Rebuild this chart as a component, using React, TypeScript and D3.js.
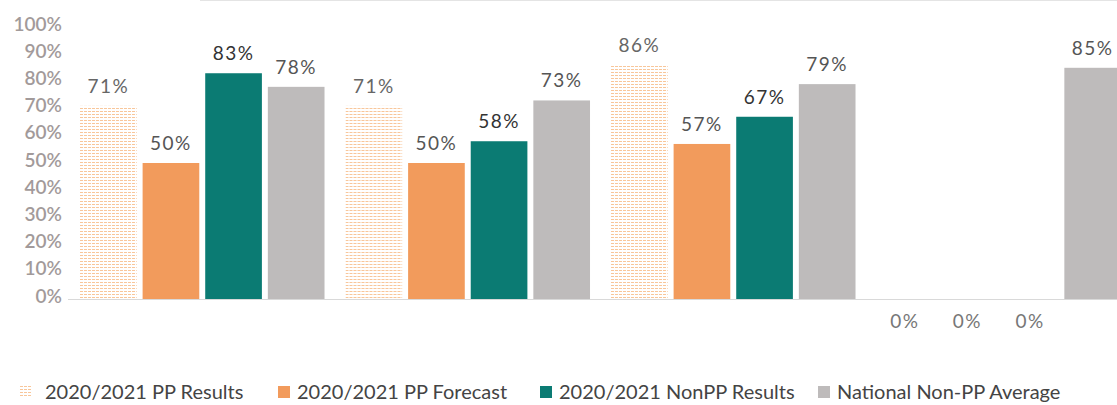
import React, { useRef, useEffect } from "react";
import * as d3 from "d3";

const categories = ["Group 1", "Group 2", "Group 3", "Group 4"];
const seriesNames = [
  "2020/2021 PP Results",
  "2020/2021 PP Forecast",
  "2020/2021 NonPP Results",
  "National Non-PP Average",
];
const ppResults = [71, 71, 86, 0];
const ppForecast = [50, 50, 57, 0];
const nonPPResults = [83, 58, 67, 0];
const nationalAvg = [78, 73, 79, 85];
const yTicks = [0, 10, 20, 30, 40, 50, 60, 70, 80, 90, 100];

const seriesValues = [ppResults, ppForecast, nonPPResults, nationalAvg];
const colors = ["url(#ppPattern)", "#f29b5c", "#0b7b73", "#bebbbb"];
const labelColors = ["#666", "#555", "#333", "#555"];

const App = () => {
  const chartRef = useRef<HTMLDivElement>(null);

  useEffect(() => {
    const width = 1117;
    const height = 405;

    d3.select(chartRef.current).selectAll("svg").remove();

    const svg = d3
      .select(chartRef.current)
      .append("svg")
      .attr("width", width)
      .attr("height", height)
      .style("position", "absolute")
      .style("left", "0px")
      .style("top", "0px")
      .style("font-family", "Lato, 'Open Sans', sans-serif");

    // dashed orange fill for the "PP Results" series
    const pat = svg
      .append("defs")
      .append("pattern")
      .attr("id", "ppPattern")
      .attr("patternUnits", "userSpaceOnUse")
      .attr("width", 4)
      .attr("height", 3);
    pat.append("rect").attr("width", 4).attr("height", 3).attr("fill", "#fff");
    pat
      .append("rect")
      .attr("width", 3)
      .attr("height", 1)
      .attr("fill", "#f8c69a");

    svg
      .append("line")
      .attr("x1", 200)
      .attr("x2", width)
      .attr("y1", 0.5)
      .attr("y2", 0.5)
      .attr("stroke", "#e4e4e4");

    const y = d3.scaleLinear().domain([0, 100]).range([299, 27]);

    const x0 = d3
      .scaleBand()
      .domain(categories)
      .range([69.5, 69.5 + 4 * 265.5])
      .paddingInner(0.079)
      .paddingOuter(0.0395);

    const x1 = d3
      .scaleBand()
      .domain(seriesNames)
      .range([0, x0.bandwidth()])
      .paddingInner(0.095)
      .paddingOuter(0);

    // y axis labels
    svg
      .append("g")
      .selectAll("text")
      .data(yTicks)
      .enter()
      .append("text")
      .attr("x", 62)
      .attr("y", (d) => y(d) - 3)
      .attr("dy", "0.35em")
      .attr("text-anchor", "end")
      .attr("fill", "#a29a9a")
      .attr("font-size", 19)
      .attr("font-weight", 600)
      .text((d) => d + "%");

    // baseline
    svg
      .append("line")
      .attr("x1", 68)
      .attr("x2", width)
      .attr("y1", y(0) + 0.5)
      .attr("y2", y(0) + 0.5)
      .attr("stroke", "#d9d9d9");

    const groups = svg
      .append("g")
      .selectAll("g")
      .data(categories)
      .enter()
      .append("g")
      .attr("transform", (d) => `translate(${x0(d)},0)`);

    groups
      .selectAll("rect")
      .data((d, i) => seriesNames.map((s, j) => ({ s, j, v: seriesValues[j][i] })))
      .enter()
      .append("rect")
      .attr("x", (d) => x1(d.s)!)
      .attr("y", (d) => y(d.v))
      .attr("width", x1.bandwidth())
      .attr("height", (d) => y(0) - y(d.v))
      .attr("fill", (d) => colors[d.j]);

    groups
      .selectAll("text")
      .data((d, i) => seriesNames.map((s, j) => ({ s, j, v: seriesValues[j][i] })))
      .enter()
      .append("text")
      .attr("x", (d) => x1(d.s)! + x1.bandwidth() / 2)
      .attr("y", (d) => (d.v === 0 ? y(0) + 29 : y(d.v) - 13))
      .attr("text-anchor", "middle")
      .attr("fill", (d) => (d.v === 0 ? "#777" : labelColors[d.j]))
      .attr("font-size", 19)
      .attr("letter-spacing", 1.5)
      .text((d) => d.v + "%");

    // legend
    const legendX = [20, 278, 540, 818];
    const legend = svg
      .append("g")
      .selectAll("g")
      .data(seriesNames)
      .enter()
      .append("g")
      .attr("transform", (d, i) => `translate(${legendX[i]},392)`);

    legend
      .append("rect")
      .attr("x", 0)
      .attr("y", -6)
      .attr("width", 12)
      .attr("height", 12)
      .attr("fill", (d, i) => colors[i]);

    legend
      .append("text")
      .attr("x", (d, i) => (i === 0 ? 25 : 19))
      .attr("y", 0)
      .attr("dy", "0.35em")
      .attr("fill", "#444")
      .attr("font-size", 20)
      .text((d) => d);
  }, []);

  return <div ref={chartRef}></div>;
};

export default App;
